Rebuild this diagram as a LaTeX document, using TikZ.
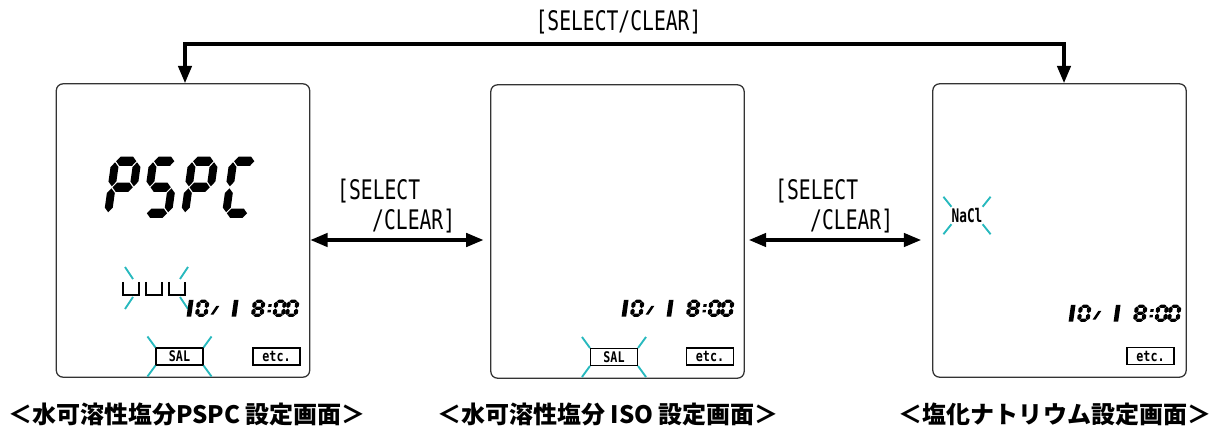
\documentclass[tikz,border=0pt]{standalone}
\usepackage{fontspec}
\usetikzlibrary{arrows.meta,positioning}

\newfontfamily\capfont{Noto Sans CJK JP}
\newfontfamily\keyfont[FakeStretch=0.73]{DejaVu Sans Mono}
\newfontfamily\tagfont[FakeStretch=0.8]{DejaVu Sans Mono}
\newfontfamily\saltfont[FakeStretch=0.68]{DejaVu Sans Mono}
\definecolor{flashcyan}{RGB}{40,185,190}

% LCD segments (cell 1 wide, 2 high, origin bottom left)
\newcommand\lcdgap{0.04}
\newcommand\lcdhalf{0.2}
\newcommand\hseg[3]{\fill (#1+\lcdgap,#3) -- (#1+\lcdgap+\lcdhalf,#3+\lcdhalf) -- (#2-\lcdgap-\lcdhalf,#3+\lcdhalf) -- (#2-\lcdgap,#3) -- (#2-\lcdgap-\lcdhalf,#3-\lcdhalf) -- (#1+\lcdgap+\lcdhalf,#3-\lcdhalf) -- cycle;}
\newcommand\vseg[3]{\fill (#1,#2+\lcdgap) -- (#1+\lcdhalf,#2+\lcdgap+\lcdhalf) -- (#1+\lcdhalf,#3-\lcdgap-\lcdhalf) -- (#1,#3-\lcdgap) -- (#1-\lcdhalf,#3-\lcdgap-\lcdhalf) -- (#1-\lcdhalf,#2+\lcdgap+\lcdhalf) -- cycle;}
\newcommand\segA{\hseg{0}{1}{2}}
\newcommand\segB{\vseg{1}{1}{2}}
\newcommand\segC{\vseg{1}{0}{1}}
\newcommand\segD{\hseg{0}{1}{0}}
\newcommand\segE{\vseg{0}{0}{1}}
\newcommand\segF{\vseg{0}{1}{2}}
\newcommand\segG{\hseg{0}{1}{1}}
\newcommand\segOne{\fill (0.68,-0.2) -- (1.22,-0.2) -- (1.22,2.2) -- (0.68,2.2) -- cycle;}
\newcommand\lcdchar[5]{\begin{scope}[shift={(#1,#2)}, xslant=0.14, yscale=-1, xscale=#3, yscale=#4]#5\end{scope}}
% date line "10/ 1 8:00"
\newcommand\lcddate[2]{%
  \renewcommand\lcdhalf{0.24}%
  \lcdchar{#1}{#2}{8.5}{7}{\segOne}%
  \lcdchar{#1+16}{#2}{8.5}{7}{\segA\segB\segC\segD\segE\segF}%
  \lcdchar{#1+29}{#2}{8.5}{7}{\fill (0.05,0.1) -- (0.4,0.1) -- (0.95,1.35) -- (0.6,1.35) -- cycle;}%
  \lcdchar{#1+45}{#2}{8.5}{7}{\segOne}%
  \lcdchar{#1+72}{#2}{8.5}{7}{\segA\segB\segC\segD\segE\segF\segG}%
  \lcdchar{#1+86}{#2}{8.5}{7}{\fill (0,0.4) rectangle (0.38,0.78); \fill (0,1.2) rectangle (0.38,1.58);}%
  \lcdchar{#1+93.5}{#2}{8.5}{7}{\segA\segB\segC\segD\segE\segF}%
  \lcdchar{#1+106}{#2}{8.5}{7}{\segA\segB\segC\segD\segE\segF}}
% blinking marks at the four corners: nw corner, se corner, dx, dy
\newcommand\flashmarks[4]{%
  \draw[flash] (#1) -- ++(-#3,-#4);
  \draw[flash] (#1 -| #2) -- ++(#3,-#4);
  \draw[flash] (#1 |- #2) -- ++(-#3,#4);
  \draw[flash] (#2) -- ++(#3,#4);}

\begin{document}
\begin{tikzpicture}[x=0.03cm, y=-0.03cm, >={Triangle[length=0.52cm,width=0.4cm]},
  panel/.style={draw=black!80, line width=1.1pt, rounded corners=0.2cm, minimum width=7.6cm, minimum height=8.8cm, inner sep=0pt},
  tag/.style={draw, line width=0.9pt, fill=white, minimum width=1.41cm, minimum height=0.51cm, inner sep=0pt, font=\tagfont\bfseries\fontsize{12.5}{12.5}\selectfont},
  keylabel/.style={inner sep=0pt, font=\keyfont\fontsize{23}{23}\selectfont},
  screenname/.style={inner sep=0pt, font=\capfont\bfseries\fontsize{20.5}{20.5}\selectfont},
  flash/.style={draw=flashcyan, line width=1.6pt},
  slot/.style={line width=0.9pt},
  swaparrow/.style={<->, line width=3pt}]
  \useasboundingbox (0,0) rectangle (1224,427);

  % the three screens
  \node[panel] (pspc) at (183,230.5) {};
  \node[panel] (iso) at (617.5,231.5) {};
  \node[panel] (nacl) at (1059.5,230.5) {};

  % loop from the first to the last screen
  \coordinate (loopL) at (185,44);
  \coordinate (loopR) at (1064,44);
  \draw[swaparrow] (loopL |- pspc.north) -- (loopL) -- (loopR) -- (loopR |- nacl.north);
  \node[keylabel] (looplbl) at (618.5,22) {[SELECT/CLEAR]};

  % arrows between neighbouring screens
  \coordinate (arrowrow) at (0,240);
  \draw[swaparrow, shorten >=0.2cm] (pspc.east |- arrowrow) -- (iso.west |- arrowrow);
  \draw[swaparrow, shorten <=0.12cm, shorten >=0.33cm] (iso.east |- arrowrow) -- (nacl.west |- arrowrow);
  \node[keylabel, anchor=west] (sel1) at (337,191) {[SELECT};
  \node[keylabel, anchor=west] (clr1) at (372,221) {/CLEAR]};
  \node[keylabel, anchor=west] (sel2) at (775,191) {[SELECT};
  \node[keylabel, anchor=west] (clr2) at (810,221) {/CLEAR]};

  % screen 1: PSPC
  \renewcommand\lcdhalf{0.18}
  \lcdchar{108}{213.3}{22}{26}{\segA\segB\segE\segF\segG}
  \lcdchar{146}{213.3}{22}{26}{\segA\segC\segD\segF\segG}
  \lcdchar{185}{213.3}{22}{26}{\segA\segB\segE\segF\segG}
  \lcdchar{226}{213.3}{22}{26}{\segA\segD\segE\segF}
  \foreach \x in {123,146,169}
    \draw[slot] (\x,282) -- (\x,295) -- (\x+16,295) -- (\x+16,282);
  \coordinate (slotnw) at (133,279);
  \coordinate (slotse) at (180,297);
  \flashmarks{slotnw}{slotse}{8}{12}
  \lcddate{181}{315.3}
  \node[tag] (sal1) at (179.5,356.5) {SAL};
  \node[tag] (etc1) at (276.5,356.5) {etc.};
  \flashmarks{sal1.north west}{sal1.south east}{8}{11}

  % screen 2: ISO
  \lcddate{616}{315.3}
  \node[tag] (sal2) at (614,357) {SAL};
  \node[tag] (etc2) at (710,356.5) {etc.};
  \flashmarks{sal2.north west}{sal2.south east}{8}{11}

  % screen 3: NaCl
  \node[inner sep=0pt, minimum width=0.78cm, minimum height=0.51cm, font=\saltfont\bfseries\fontsize{16}{16}\selectfont] (salt) at (967,215.5) {NaCl};
  \flashmarks{salt.north west}{salt.south east}{8}{10}
  \lcddate{1063}{320.3}
  \node[tag] (etc3) at (1150.5,356) {etc.};

  % screen names
  \node[screenname] (namepspc) at (187,414) {＜水可溶性塩分PSPC 設定画面＞};
  \node[screenname] (nameiso) at (608,414) {＜水可溶性塩分 ISO 設定画面＞};
  \node[screenname] (namenacl) at (1055,414) {＜塩化ナトリウム設定画面＞};
\end{tikzpicture}
\end{document}
